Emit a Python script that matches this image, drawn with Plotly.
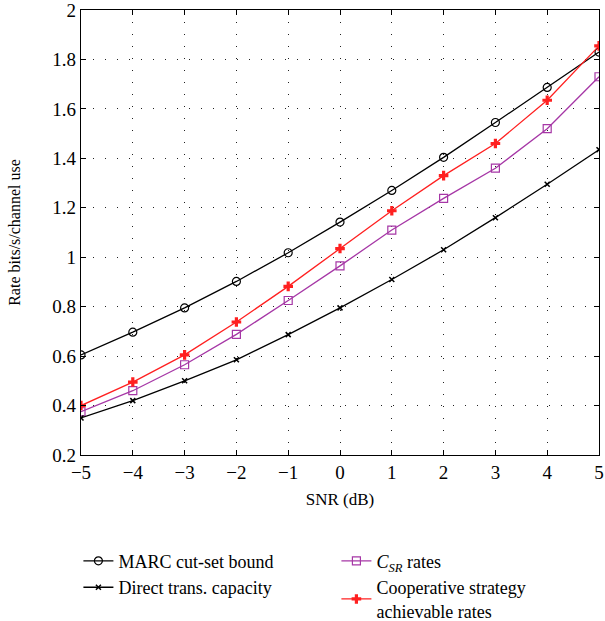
import plotly.graph_objects as go

snr = [-5, -4, -3, -2, -1, 0, 1, 2, 3, 4, 5]
marc = [0.605, 0.697, 0.795, 0.902, 1.018, 1.142, 1.270, 1.404, 1.545, 1.687, 1.830]
direct = [0.350, 0.420, 0.500, 0.585, 0.687, 0.795, 0.910, 1.030, 1.160, 1.295, 1.435]
csr = [0.375, 0.460, 0.565, 0.688, 0.825, 0.965, 1.110, 1.238, 1.360, 1.520, 1.730]
coop = [0.400, 0.495, 0.605, 0.738, 0.882, 1.035, 1.188, 1.330, 1.460, 1.635, 1.855]
x_ticks = [-5, -4, -3, -2, -1, 0, 1, 2, 3, 4, 5]
x_ticklabels = ["\u22125", "\u22124", "\u22123", "\u22122", "\u22121", "0", "1", "2", "3", "4", "5"]
y_ticks = [0.2, 0.4, 0.6, 0.8, 1.0, 1.2, 1.4, 1.6, 1.8, 2.0]
y_ticklabels = ["0.2", "0.4", "0.6", "0.8", "1", "1.2", "1.4", "1.6", "1.8", "2"]

FONT = "Liberation Serif"

fig = go.Figure()
fig.add_trace(go.Scatter(x=snr, y=marc, mode="lines+markers", name="MARC cut-set bound",
                         line=dict(color="black", width=1.3),
                         marker=dict(symbol="circle-open", size=8, color="black", line=dict(width=1.2))))
fig.add_trace(go.Scatter(x=snr, y=csr, mode="lines+markers", name="<i>C<sub>SR</sub></i> rates",
                         line=dict(color="#a637a6", width=1.3),
                         marker=dict(symbol="square-open", size=8, color="#a637a6", line=dict(width=1.2))))
fig.add_trace(go.Scatter(x=snr, y=direct, mode="lines+markers", name="Direct trans. capacity",
                         line=dict(color="black", width=1.3),
                         marker=dict(symbol="x-thin-open", size=5, color="black", line=dict(width=1.5))))
fig.add_trace(go.Scatter(x=snr, y=coop, mode="lines+markers", name="Cooperative strategy<br>achievable rates",
                         line=dict(color="#ff2020", width=1.3),
                         marker=dict(symbol="cross", size=8, color="#ff2020")))

axis_common = dict(showline=True, linecolor="black", linewidth=1.2, mirror="ticks",
                   ticks="inside", ticklen=5, tickcolor="black",
                   showgrid=True, gridcolor="#222222", griddash="1px,11px", gridwidth=1,
                   zeroline=False, ticklabeloverflow="allow",
                   tickfont=dict(family=FONT, size=19, color="black"))

fig.update_xaxes(range=[-5, 5], tickvals=x_ticks, ticktext=x_ticklabels,
                 title=dict(text="SNR (dB)", font=dict(family=FONT, size=17, color="black"), standoff=11),
                 **axis_common)
fig.update_yaxes(range=[0.2, 2.0], tickvals=y_ticks, ticktext=y_ticklabels,
                 title=dict(text="Rate bits/s/channel use", font=dict(family=FONT, size=16, color="black"), standoff=27),
                 **axis_common)

fig.update_layout(
    width=605, height=621,
    margin=dict(l=81, r=6, t=10, b=166, autoexpand=False),
    plot_bgcolor="white", paper_bgcolor="white",
    font=dict(family=FONT, size=16, color="black"),
    legend=dict(orientation="h", x=-0.005, xanchor="left", y=-0.197, yanchor="top",
                entrywidth=213, entrywidthmode="pixels", tracegroupgap=0,
                font=dict(family=FONT, size=18, color="black"),
                bgcolor="rgba(0,0,0,0)", itemwidth=30),
)

fig.write_html("out.html", config={"displayModeBar": False},
               post_script="document.body.style.margin='0';document.body.style.overflow='hidden';")
